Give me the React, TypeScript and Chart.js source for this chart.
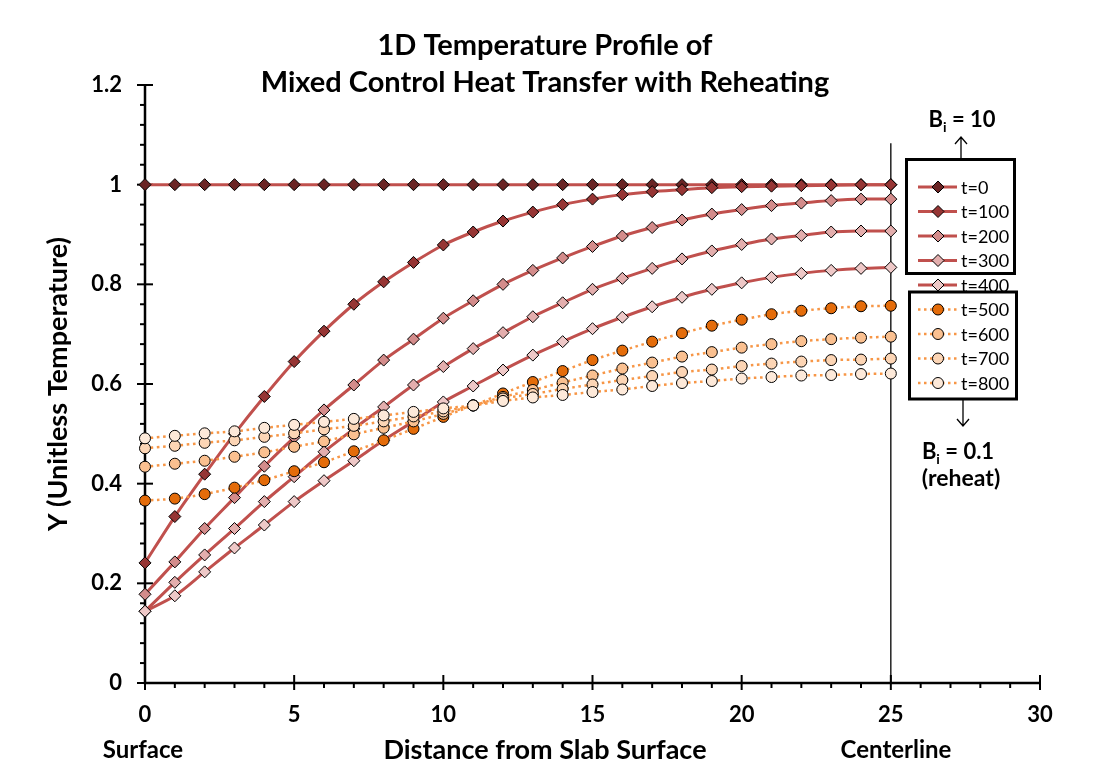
import React, { useEffect, useRef } from "react";
import { Chart, registerables } from "chart.js";

Chart.register(...registerables);

const distance = [0, 1, 2, 3, 4, 5, 6, 7, 8, 9, 10, 11, 12, 13, 14, 15, 16, 17, 18, 19, 20, 21, 22, 23, 24, 25];

const seriesLabels = ["t=0", "t=100", "t=200", "t=300", "t=400", "t=500", "t=600", "t=700", "t=800"];

const t0 = [1, 1, 1, 1, 1, 1, 1, 1, 1, 1, 1, 1, 1, 1, 1, 1, 1, 1, 1, 1, 1, 1, 1, 1, 1, 1];
const t100 = [0.241, 0.334, 0.419, 0.5, 0.575, 0.645, 0.706, 0.76, 0.805, 0.844, 0.879, 0.905, 0.927, 0.945, 0.96, 0.971, 0.98, 0.986, 0.99, 0.994, 0.996, 0.997, 0.998, 0.999, 1.0, 1.0];
const t200 = [0.178, 0.243, 0.31, 0.372, 0.435, 0.493, 0.548, 0.598, 0.648, 0.69, 0.732, 0.767, 0.8, 0.828, 0.853, 0.876, 0.897, 0.914, 0.929, 0.941, 0.95, 0.958, 0.963, 0.968, 0.971, 0.971];
const t300 = [0.144, 0.202, 0.257, 0.31, 0.364, 0.414, 0.464, 0.51, 0.554, 0.598, 0.635, 0.671, 0.703, 0.735, 0.763, 0.79, 0.812, 0.832, 0.851, 0.867, 0.88, 0.891, 0.898, 0.905, 0.907, 0.907];
const t400 = [0.144, 0.175, 0.223, 0.271, 0.317, 0.364, 0.406, 0.446, 0.487, 0.525, 0.564, 0.596, 0.628, 0.658, 0.685, 0.711, 0.734, 0.755, 0.774, 0.79, 0.803, 0.814, 0.822, 0.828, 0.832, 0.834];
const t500 = [0.366, 0.37, 0.379, 0.392, 0.407, 0.425, 0.443, 0.465, 0.487, 0.51, 0.534, 0.557, 0.581, 0.604, 0.626, 0.648, 0.667, 0.685, 0.702, 0.717, 0.729, 0.74, 0.747, 0.752, 0.756, 0.757];
const t600 = [0.434, 0.44, 0.446, 0.454, 0.463, 0.474, 0.485, 0.499, 0.512, 0.525, 0.54, 0.557, 0.574, 0.588, 0.603, 0.617, 0.631, 0.643, 0.655, 0.664, 0.673, 0.68, 0.686, 0.69, 0.693, 0.695];
const t700 = [0.471, 0.476, 0.482, 0.487, 0.494, 0.501, 0.509, 0.516, 0.525, 0.535, 0.545, 0.557, 0.571, 0.58, 0.59, 0.599, 0.608, 0.616, 0.624, 0.629, 0.636, 0.641, 0.645, 0.648, 0.649, 0.651];
const t800 = [0.491, 0.496, 0.501, 0.505, 0.512, 0.518, 0.524, 0.53, 0.537, 0.544, 0.551, 0.557, 0.566, 0.573, 0.578, 0.584, 0.589, 0.596, 0.602, 0.606, 0.611, 0.614, 0.617, 0.618, 0.62, 0.621];

const seriesValues = [t0, t100, t200, t300, t400, t500, t600, t700, t800];
const markerFills = ["#6A2424", "#963534", "#D38C8B", "#E3AEAD", "#EEC8C7", "#E46C0A", "#FAC090", "#FCD5B5", "#FDE9D9"];

const FONT = "Lato, 'DejaVu Sans', sans-serif";
const RED = "#C0504D";
const ORANGE = "#F79646";

function drawDiamond(ctx: CanvasRenderingContext2D, cx: number, cy: number, r: number, fill: string) {
  ctx.beginPath();
  ctx.moveTo(cx, cy - r);
  ctx.lineTo(cx + r, cy);
  ctx.lineTo(cx, cy + r);
  ctx.lineTo(cx - r, cy);
  ctx.closePath();
  ctx.fillStyle = fill;
  ctx.fill();
  ctx.lineWidth = 1;
  ctx.strokeStyle = "#000";
  ctx.stroke();
}

function drawCircle(ctx: CanvasRenderingContext2D, cx: number, cy: number, r: number, fill: string) {
  ctx.beginPath();
  ctx.arc(cx, cy, r, 0, Math.PI * 2);
  ctx.fillStyle = fill;
  ctx.fill();
  ctx.lineWidth = 1;
  ctx.strokeStyle = "#000";
  ctx.stroke();
}

function drawBi(ctx: CanvasRenderingContext2D, cx: number, cy: number, rest: string) {
  const big = `bold 22px ${FONT}`;
  const small = `bold 14px ${FONT}`;
  ctx.font = big;
  const wB = ctx.measureText("B").width;
  const wRest = ctx.measureText(rest).width;
  ctx.font = small;
  const wi = ctx.measureText("i").width;
  const total = wB + wi + wRest;
  const x0 = cx - total / 2;
  ctx.fillStyle = "#000";
  ctx.textAlign = "left";
  ctx.textBaseline = "middle";
  ctx.font = big;
  ctx.fillText("B", x0, cy);
  ctx.font = small;
  ctx.fillText("i", x0 + wB, cy + 7);
  ctx.font = big;
  ctx.fillText(rest, x0 + wB + wi, cy);
}

const decorPlugin = {
  id: "decor",
  beforeDatasetsDraw(chart: any) {
    const { ctx, chartArea: ca, scales } = chart;
    const x = scales.x;
    const y = scales.y;
    ctx.save();
    ctx.strokeStyle = "#000";
    ctx.lineCap = "butt";
    ctx.lineWidth = 2;
    for (let v = 0; v <= 30; v++) {
      const px = x.getPixelForValue(v);
      ctx.beginPath();
      if (v % 5 === 0) {
        ctx.moveTo(px, ca.bottom - 8);
        ctx.lineTo(px, ca.bottom + 7);
      } else {
        ctx.moveTo(px, ca.bottom);
        ctx.lineTo(px, ca.bottom + 5);
      }
      ctx.stroke();
    }
    for (let k = 0; k <= 30; k++) {
      const py = y.getPixelForValue(k * 0.04);
      ctx.beginPath();
      if (k % 5 === 0) {
        ctx.moveTo(ca.left - 8, py);
        ctx.lineTo(ca.left + 8, py);
      } else {
        ctx.moveTo(ca.left - 5, py);
        ctx.lineTo(ca.left, py);
      }
      ctx.stroke();
    }
    ctx.lineWidth = 2.5;
    ctx.beginPath();
    ctx.moveTo(ca.left, ca.top);
    ctx.lineTo(ca.left, ca.bottom);
    ctx.lineTo(ca.right, ca.bottom);
    ctx.stroke();
    // centerline marker
    ctx.lineWidth = 1.3;
    const cx = x.getPixelForValue(25);
    ctx.beginPath();
    ctx.moveTo(cx, y.getPixelForValue(1.083));
    ctx.lineTo(cx, ca.bottom);
    ctx.stroke();
    ctx.restore();
  },
  afterDraw(chart: any) {
    const { ctx, chartArea: ca } = chart;
    ctx.save();
    ctx.fillStyle = "#000";
    ctx.textAlign = "center";
    ctx.textBaseline = "middle";
    // title
    ctx.font = `bold 29px ${FONT}`;
    ctx.fillText("1D Temperature Profile of", 545, 46);
    ctx.fillText("Mixed Control Heat Transfer with Reheating", 545, 83);
    // axis titles
    ctx.font = `bold 27px ${FONT}`;
    ctx.fillText("Distance from Slab Surface", 545, 750);
    ctx.save();
    ctx.translate(58, (ca.top + ca.bottom) / 2);
    ctx.rotate(-Math.PI / 2);
    ctx.fillText("Y (Unitless Temperature)", 0, 0);
    ctx.restore();
    ctx.font = `bold 24px ${FONT}`;
    ctx.fillText("Surface", 143, 750);
    ctx.fillText("Centerline", 896, 750);
    // Bi annotations
    drawBi(ctx, 962, 120, " = 10");
    drawBi(ctx, 958, 452, " = 0.1");
    ctx.font = `bold 23px ${FONT}`;
    ctx.textAlign = "center";
    ctx.fillText("(reheat)", 961, 479);
    // arrows
    ctx.strokeStyle = "#000";
    ctx.lineWidth = 1.3;
    ctx.beginPath();
    ctx.moveTo(961, 159);
    ctx.lineTo(961, 137);
    ctx.moveTo(955, 144);
    ctx.lineTo(961, 137);
    ctx.lineTo(967, 144);
    ctx.moveTo(963, 399);
    ctx.lineTo(963, 426);
    ctx.moveTo(957, 419);
    ctx.lineTo(963, 426);
    ctx.lineTo(969, 419);
    ctx.stroke();
    // legend boxes
    ctx.lineWidth = 3;
    ctx.strokeRect(906.5, 159.5, 108, 114);
    ctx.strokeRect(909.5, 292, 107, 107);
    // legend entries
    for (let i = 0; i < seriesLabels.length; i++) {
      const ly = 187 + i * 24.5;
      const solid = i < 5;
      ctx.save();
      ctx.lineWidth = solid ? 3 : 2.5;
      ctx.strokeStyle = solid ? RED : ORANGE;
      ctx.setLineDash(solid ? [] : [2.5, 3.5]);
      ctx.beginPath();
      ctx.moveTo(918, ly);
      ctx.lineTo(957, ly);
      ctx.stroke();
      ctx.restore();
      if (solid) drawDiamond(ctx, 938, ly, 6, markerFills[i]);
      else drawCircle(ctx, 938, ly, 5.5, markerFills[i]);
      ctx.fillStyle = "#000";
      ctx.font = `18px ${FONT}`;
      ctx.textAlign = "left";
      ctx.textBaseline = "middle";
      ctx.fillText(seriesLabels[i], 961, ly + 1);
    }
    ctx.restore();
  },
};

export default function App() {
  const canvasRef = useRef<HTMLCanvasElement | null>(null);

  useEffect(() => {
    const canvas = canvasRef.current;
    if (!canvas) return;
    const datasets = seriesValues.map((vals, i) => {
      const solid = i < 5;
      return {
        label: seriesLabels[i],
        data: distance.map((d, j) => ({ x: d, y: vals[j] })),
        borderColor: solid ? RED : ORANGE,
        borderWidth: solid ? 3 : 2.5,
        borderDash: solid ? [] : [2.5, 3.5],
        tension: 0.3,
        pointStyle: solid ? "rectRot" : "circle",
        pointRadius: solid ? 6 : 5.5,
        pointBackgroundColor: markerFills[i],
        pointBorderColor: "#000",
        pointBorderWidth: 1,
        fill: false,
        clip: false,
        order: seriesLabels.length - 1 - i,
      };
    });
    const chart = new Chart(canvas, {
      type: "line",
      data: { datasets },
      plugins: [decorPlugin],
      options: {
        responsive: false,
        animation: false,
        events: [],
        layout: { padding: { left: 0, top: 85, right: 61, bottom: 0 }, autoPadding: false },
        plugins: {
          legend: { display: false },
          title: { display: false },
          tooltip: { enabled: false },
        },
        scales: {
          x: {
            type: "linear",
            min: 0,
            max: 30,
            afterFit: (s: any) => {
              s.height = 82;
            },
            grid: { display: false, drawTicks: false },
            border: { display: false },
            ticks: {
              stepSize: 5,
              color: "#000",
              padding: 19,
              font: { family: FONT, size: 22, weight: "bold" },
            },
          },
          y: {
            type: "linear",
            min: 0,
            max: 1.2,
            afterFit: (s: any) => {
              s.width = 145;
            },
            grid: { display: false, drawTicks: false },
            border: { display: false },
            ticks: {
              stepSize: 0.2,
              color: "#000",
              padding: 23,
              font: { family: FONT, size: 22, weight: "bold" },
              callback: (v: any) => String(Number(Number(v).toFixed(2))),
            },
          },
        },
      } as any,
    });
    return () => chart.destroy();
  }, []);

  return (
    <div style={{ position: "fixed", left: 0, top: 0, width: 1101, height: 765, background: "#fff" }}>
      <canvas ref={canvasRef} width={1101} height={765} style={{ display: "block" }} />
    </div>
  );
}
